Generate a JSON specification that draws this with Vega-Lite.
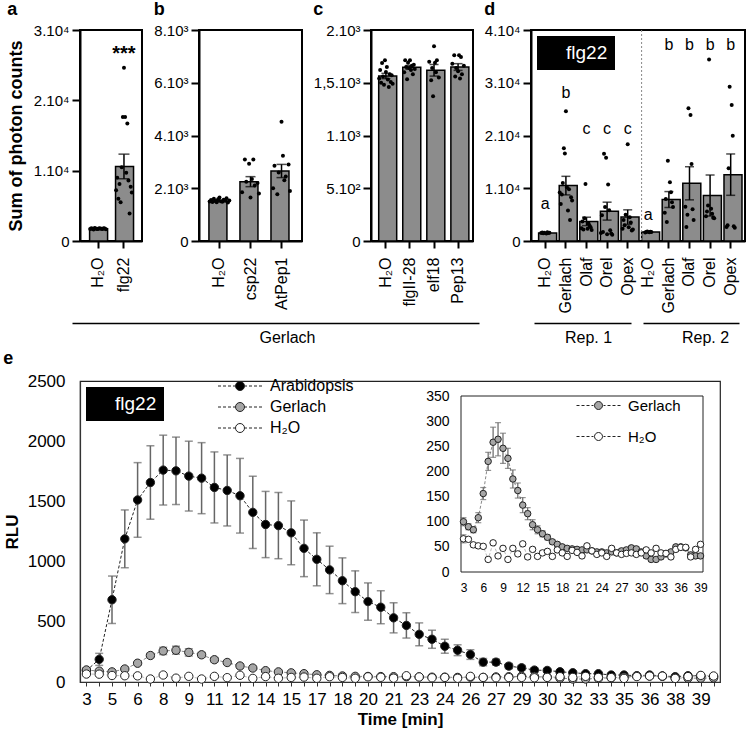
{
"$schema": "https://vega.github.io/schema/vega-lite/v6.json",
"padding": {"left": 2, "top": 0, "right": 0, "bottom": 0},
"config": {
  "font": "Liberation Sans",
  "view": {"stroke": "black", "strokeWidth": 2},
  "axis": {"grid": false, "labelColor": "black", "titleColor": "black", "domainColor": "black", "tickColor": "black", "labelFont": "Liberation Sans", "titleFont": "Liberation Sans"},
  "axisX": {"labelOverlap": false},
  "title": {"font": "Liberation Sans", "fontSize": 18, "fontWeight": "bold", "anchor": "start", "color": "black", "offset": 4},
  "legend": {"labelFont": "Liberation Sans", "labelColor": "black"}
},
"resolve": {"scale": {"shape": "independent", "fill": "independent", "stroke": "independent"}, "legend": {"shape": "independent", "fill": "independent", "stroke": "independent"}},
"datasets": {
"bars": [
{"p":"a","c":"H₂O","m":1750,"se":60},
{"p":"a","c":"flg22","m":10600,"se":1750,"lab":"***","ly":26600},
{"p":"b","c":"H₂O","m":1517,"se":25},
{"p":"b","c":"csp22","m":2250,"se":190},
{"p":"b","c":"AtPep1","m":2654,"se":250},
{"p":"c","c":"H₂O","m":1564,"se":25},
{"p":"c","c":"flgII-28","m":1646,"se":18},
{"p":"c","c":"elf18","m":1618,"se":55},
{"p":"c","c":"Pep13","m":1649,"se":32},
{"p":"d","c":"H₂O|1","m":1509,"se":60,"lab":"a","ly":7070},
{"p":"d","c":"Gerlach|1","m":10500,"se":1760,"lab":"b","ly":28110},
{"p":"d","c":"Olaf|1","m":3710,"se":800,"lab":"c","ly":21290},
{"p":"d","c":"Orel|1","m":5660,"se":1700,"lab":"c","ly":21290},
{"p":"d","c":"Opex|1","m":4530,"se":1380,"lab":"c","ly":21290},
{"p":"d","c":"H₂O|2","m":1700,"se":60,"lab":"a","ly":4870},
{"p":"d","c":"Gerlach|2","m":7860,"se":1510,"lab":"b","ly":37100},
{"p":"d","c":"Olaf|2","m":10940,"se":3140,"lab":"b","ly":37100},
{"p":"d","c":"Orel|2","m":8620,"se":3890,"lab":"b","ly":37100},
{"p":"d","c":"Opex|2","m":12580,"se":3920,"lab":"b","ly":37100}
],
"pts": [
{"p":"a","c":"H₂O","r":1,"v":1700},{"p":"a","c":"H₂O","r":2,"v":1800},{"p":"a","c":"H₂O","r":3,"v":1750},{"p":"a","c":"H₂O","r":4,"v":1650},{"p":"a","c":"H₂O","r":5,"v":1850},{"p":"a","c":"H₂O","r":6,"v":1780},{"p":"a","c":"H₂O","r":7,"v":1720},{"p":"a","c":"H₂O","r":8,"v":1690},{"p":"a","c":"H₂O","r":9,"v":1810},{"p":"a","c":"H₂O","r":10,"v":1760},{"p":"a","c":"H₂O","r":11,"v":1740},{"p":"a","c":"H₂O","r":12,"v":1700},{"p":"a","c":"H₂O","r":13,"v":1820},{"p":"a","c":"H₂O","r":14,"v":1770},{"p":"a","c":"H₂O","r":15,"v":1680},
{"p":"a","c":"flg22","r":1,"v":7200},{"p":"a","c":"flg22","r":2,"v":9000},{"p":"a","c":"flg22","r":3,"v":6000},{"p":"a","c":"flg22","r":4,"v":8100},{"p":"a","c":"flg22","r":5,"v":5500},{"p":"a","c":"flg22","r":6,"v":10500},{"p":"a","c":"flg22","r":7,"v":17640},{"p":"a","c":"flg22","r":8,"v":24650},{"p":"a","c":"flg22","r":9,"v":17640},{"p":"a","c":"flg22","r":10,"v":9700},{"p":"a","c":"flg22","r":11,"v":16690},{"p":"a","c":"flg22","r":12,"v":8600},{"p":"a","c":"flg22","r":13,"v":3900},{"p":"a","c":"flg22","r":14,"v":7700},{"p":"a","c":"flg22","r":15,"v":6900},
{"p":"b","c":"H₂O","r":1,"v":1500},{"p":"b","c":"H₂O","r":2,"v":1550},{"p":"b","c":"H₂O","r":3,"v":1480},{"p":"b","c":"H₂O","r":4,"v":1600},{"p":"b","c":"H₂O","r":5,"v":1520},{"p":"b","c":"H₂O","r":6,"v":1470},{"p":"b","c":"H₂O","r":7,"v":1580},{"p":"b","c":"H₂O","r":8,"v":1650},{"p":"b","c":"H₂O","r":9,"v":1510},{"p":"b","c":"H₂O","r":10,"v":1490},{"p":"b","c":"H₂O","r":11,"v":1560},{"p":"b","c":"H₂O","r":12,"v":1530},{"p":"b","c":"H₂O","r":13,"v":1620},{"p":"b","c":"H₂O","r":14,"v":1460},{"p":"b","c":"H₂O","r":15,"v":1540},
{"p":"b","c":"csp22","r":2,"v":1850},{"p":"b","c":"csp22","r":4,"v":3090},{"p":"b","c":"csp22","r":5,"v":2250},{"p":"b","c":"csp22","r":7,"v":2930},{"p":"b","c":"csp22","r":8,"v":1650},{"p":"b","c":"csp22","r":9,"v":2350},{"p":"b","c":"csp22","r":10,"v":3090},{"p":"b","c":"csp22","r":11,"v":2100},{"p":"b","c":"csp22","r":13,"v":2200},{"p":"b","c":"csp22","r":14,"v":1800},
{"p":"b","c":"AtPep1","r":2,"v":2000},{"p":"b","c":"AtPep1","r":3,"v":2850},{"p":"b","c":"AtPep1","r":5,"v":1770},{"p":"b","c":"AtPep1","r":6,"v":2600},{"p":"b","c":"AtPep1","r":8,"v":4520},{"p":"b","c":"AtPep1","r":9,"v":3230},{"p":"b","c":"AtPep1","r":10,"v":2300},{"p":"b","c":"AtPep1","r":11,"v":2450},{"p":"b","c":"AtPep1","r":13,"v":2900},{"p":"b","c":"AtPep1","r":14,"v":1900},
{"p":"c","c":"H₂O","r":1,"v":1540},{"p":"c","c":"H₂O","r":2,"v":1620},{"p":"c","c":"H₂O","r":3,"v":1500},{"p":"c","c":"H₂O","r":4,"v":1687},{"p":"c","c":"H₂O","r":5,"v":1560},{"p":"c","c":"H₂O","r":6,"v":1480},{"p":"c","c":"H₂O","r":7,"v":1713},{"p":"c","c":"H₂O","r":8,"v":1602},{"p":"c","c":"H₂O","r":9,"v":1649},{"p":"c","c":"H₂O","r":10,"v":1530},{"p":"c","c":"H₂O","r":11,"v":1460},{"p":"c","c":"H₂O","r":12,"v":1580},{"p":"c","c":"H₂O","r":13,"v":1507},{"p":"c","c":"H₂O","r":14,"v":1570},{"p":"c","c":"H₂O","r":15,"v":1490},
{"p":"c","c":"flgII-28","r":2,"v":1600},{"p":"c","c":"flgII-28","r":3,"v":1713},{"p":"c","c":"flgII-28","r":4,"v":1650},{"p":"c","c":"flgII-28","r":5,"v":1532},{"p":"c","c":"flgII-28","r":6,"v":1690},{"p":"c","c":"flgII-28","r":7,"v":1640},{"p":"c","c":"flgII-28","r":8,"v":1713},{"p":"c","c":"flgII-28","r":9,"v":1620},{"p":"c","c":"flgII-28","r":10,"v":1660},{"p":"c","c":"flgII-28","r":11,"v":1580},{"p":"c","c":"flgII-28","r":12,"v":1670},{"p":"c","c":"flgII-28","r":13,"v":1630},
{"p":"c","c":"elf18","r":3,"v":1700},{"p":"c","c":"elf18","r":5,"v":1523},{"p":"c","c":"elf18","r":6,"v":1640},{"p":"c","c":"elf18","r":7,"v":1371},{"p":"c","c":"elf18","r":8,"v":1845},{"p":"c","c":"elf18","r":9,"v":1690},{"p":"c","c":"elf18","r":10,"v":1600},{"p":"c","c":"elf18","r":11,"v":1713},{"p":"c","c":"elf18","r":13,"v":1550},
{"p":"c","c":"Pep13","r":2,"v":1680},{"p":"c","c":"Pep13","r":4,"v":1760},{"p":"c","c":"Pep13","r":5,"v":1560},{"p":"c","c":"Pep13","r":6,"v":1640},{"p":"c","c":"Pep13","r":8,"v":1610},{"p":"c","c":"Pep13","r":9,"v":1760},{"p":"c","c":"Pep13","r":10,"v":1540},{"p":"c","c":"Pep13","r":11,"v":1745},{"p":"c","c":"Pep13","r":12,"v":1580},{"p":"c","c":"Pep13","r":14,"v":1660},
{"p":"d","c":"H₂O|1","r":3,"v":1500},{"p":"d","c":"H₂O|1","r":4,"v":1600},{"p":"d","c":"H₂O|1","r":5,"v":1450},{"p":"d","c":"H₂O|1","r":6,"v":1550},{"p":"d","c":"H₂O|1","r":8,"v":1400},{"p":"d","c":"H₂O|1","r":9,"v":1650},{"p":"d","c":"H₂O|1","r":10,"v":1500},{"p":"d","c":"H₂O|1","r":11,"v":1580},
{"p":"d","c":"Gerlach|1","r":1,"v":9200},{"p":"d","c":"Gerlach|1","r":2,"v":7000},{"p":"d","c":"Gerlach|1","r":3,"v":8800},{"p":"d","c":"Gerlach|1","r":4,"v":11000},{"p":"d","c":"Gerlach|1","r":5,"v":17600},{"p":"d","c":"Gerlach|1","r":6,"v":16600},{"p":"d","c":"Gerlach|1","r":7,"v":24600},{"p":"d","c":"Gerlach|1","r":8,"v":10200},{"p":"d","c":"Gerlach|1","r":9,"v":5800},{"p":"d","c":"Gerlach|1","r":10,"v":9800},{"p":"d","c":"Gerlach|1","r":11,"v":4000},{"p":"d","c":"Gerlach|1","r":12,"v":8300},{"p":"d","c":"Gerlach|1","r":13,"v":7700},
{"p":"d","c":"Olaf|1","r":2,"v":2400},{"p":"d","c":"Olaf|1","r":3,"v":3700},{"p":"d","c":"Olaf|1","r":4,"v":2200},{"p":"d","c":"Olaf|1","r":5,"v":4300},{"p":"d","c":"Olaf|1","r":6,"v":10820},{"p":"d","c":"Olaf|1","r":8,"v":2330},{"p":"d","c":"Olaf|1","r":9,"v":3300},{"p":"d","c":"Olaf|1","r":10,"v":2900},{"p":"d","c":"Olaf|1","r":11,"v":2600},{"p":"d","c":"Olaf|1","r":12,"v":2100},
{"p":"d","c":"Orel|1","r":1,"v":1500},{"p":"d","c":"Orel|1","r":2,"v":4870},{"p":"d","c":"Orel|1","r":3,"v":1700},{"p":"d","c":"Orel|1","r":4,"v":16550},{"p":"d","c":"Orel|1","r":5,"v":6450},{"p":"d","c":"Orel|1","r":6,"v":15790},{"p":"d","c":"Orel|1","r":7,"v":1300},{"p":"d","c":"Orel|1","r":8,"v":10700},{"p":"d","c":"Orel|1","r":9,"v":5820},{"p":"d","c":"Orel|1","r":10,"v":2030},{"p":"d","c":"Orel|1","r":11,"v":1400},{"p":"d","c":"Orel|1","r":12,"v":1200},
{"p":"d","c":"Opex|1","r":2,"v":2300},{"p":"d","c":"Opex|1","r":3,"v":4000},{"p":"d","c":"Opex|1","r":4,"v":3000},{"p":"d","c":"Opex|1","r":5,"v":5000},{"p":"d","c":"Opex|1","r":7,"v":18360},{"p":"d","c":"Opex|1","r":8,"v":2600},{"p":"d","c":"Opex|1","r":9,"v":4500},{"p":"d","c":"Opex|1","r":10,"v":3500},{"p":"d","c":"Opex|1","r":11,"v":2000},{"p":"d","c":"Opex|1","r":12,"v":2200},
{"p":"d","c":"H₂O|2","r":4,"v":1600},{"p":"d","c":"H₂O|2","r":5,"v":1700},{"p":"d","c":"H₂O|2","r":6,"v":1800},{"p":"d","c":"H₂O|2","r":8,"v":1650},{"p":"d","c":"H₂O|2","r":9,"v":1750},{"p":"d","c":"H₂O|2","r":10,"v":1700},
{"p":"d","c":"Gerlach|2","r":3,"v":5350},{"p":"d","c":"Gerlach|2","r":4,"v":7980},{"p":"d","c":"Gerlach|2","r":5,"v":3580},{"p":"d","c":"Gerlach|2","r":6,"v":15220},{"p":"d","c":"Gerlach|2","r":8,"v":11130},{"p":"d","c":"Gerlach|2","r":9,"v":9240},{"p":"d","c":"Gerlach|2","r":10,"v":7360},{"p":"d","c":"Gerlach|2","r":11,"v":6450},
{"p":"d","c":"Olaf|2","r":3,"v":6500},{"p":"d","c":"Olaf|2","r":4,"v":2640},{"p":"d","c":"Olaf|2","r":5,"v":5000},{"p":"d","c":"Olaf|2","r":6,"v":25150},{"p":"d","c":"Olaf|2","r":8,"v":23900},{"p":"d","c":"Olaf|2","r":9,"v":14580},{"p":"d","c":"Olaf|2","r":10,"v":6000},{"p":"d","c":"Olaf|2","r":11,"v":4000},
{"p":"d","c":"Orel|2","r":3,"v":4700},{"p":"d","c":"Orel|2","r":4,"v":5600},{"p":"d","c":"Orel|2","r":5,"v":6740},{"p":"d","c":"Orel|2","r":6,"v":34400},{"p":"d","c":"Orel|2","r":8,"v":6100},{"p":"d","c":"Orel|2","r":9,"v":5180},{"p":"d","c":"Orel|2","r":10,"v":4400},{"p":"d","c":"Orel|2","r":11,"v":4300},
{"p":"d","c":"Opex|2","r":3,"v":2640},{"p":"d","c":"Opex|2","r":4,"v":3000},{"p":"d","c":"Opex|2","r":5,"v":13770},{"p":"d","c":"Opex|2","r":6,"v":29250},{"p":"d","c":"Opex|2","r":8,"v":25790},{"p":"d","c":"Opex|2","r":9,"v":19940},{"p":"d","c":"Opex|2","r":10,"v":2800},{"p":"d","c":"Opex|2","r":11,"v":2500}
],
"kin": [
{"s":"Arabidopsis","t":3,"m":95,"e":20},{"s":"Arabidopsis","t":3.75,"m":188,"e":50},{"s":"Arabidopsis","t":4.5,"m":683,"e":197},{"s":"Arabidopsis","t":5.25,"m":1189,"e":240},{"s":"Arabidopsis","t":6,"m":1512,"e":310},{"s":"Arabidopsis","t":6.75,"m":1657,"e":305},{"s":"Arabidopsis","t":7.5,"m":1760,"e":290},{"s":"Arabidopsis","t":8.25,"m":1754,"e":280},{"s":"Arabidopsis","t":9,"m":1710,"e":290},{"s":"Arabidopsis","t":9.75,"m":1693,"e":295},
{"s":"Arabidopsis","t":10.5,"m":1616,"e":295},{"s":"Arabidopsis","t":11.25,"m":1591,"e":295},{"s":"Arabidopsis","t":12,"m":1547,"e":310},{"s":"Arabidopsis","t":12.75,"m":1409,"e":300},{"s":"Arabidopsis","t":13.5,"m":1308,"e":275},{"s":"Arabidopsis","t":14.25,"m":1299,"e":275},{"s":"Arabidopsis","t":15,"m":1239,"e":265},{"s":"Arabidopsis","t":15.75,"m":1110,"e":235},{"s":"Arabidopsis","t":16.5,"m":1019,"e":220},{"s":"Arabidopsis","t":17.25,"m":931,"e":197},
{"s":"Arabidopsis","t":18,"m":841,"e":190},{"s":"Arabidopsis","t":18.75,"m":750,"e":173},{"s":"Arabidopsis","t":19.5,"m":668,"e":155},{"s":"Arabidopsis","t":20.25,"m":621,"e":137},{"s":"Arabidopsis","t":21,"m":533,"e":125},{"s":"Arabidopsis","t":21.75,"m":470,"e":105},{"s":"Arabidopsis","t":22.5,"m":396,"e":95},{"s":"Arabidopsis","t":23.25,"m":355,"e":75},{"s":"Arabidopsis","t":24,"m":297,"e":58},{"s":"Arabidopsis","t":24.75,"m":264,"e":45},
{"s":"Arabidopsis","t":25.5,"m":228,"e":40},{"s":"Arabidopsis","t":26.25,"m":165,"e":30},{"s":"Arabidopsis","t":27,"m":165,"e":25},{"s":"Arabidopsis","t":27.75,"m":132,"e":22},{"s":"Arabidopsis","t":28.5,"m":118,"e":20},{"s":"Arabidopsis","t":29.25,"m":99,"e":18},{"s":"Arabidopsis","t":30,"m":96,"e":15},{"s":"Arabidopsis","t":30.75,"m":85,"e":12},{"s":"Arabidopsis","t":31.5,"m":77,"e":10},{"s":"Arabidopsis","t":32.25,"m":69,"e":10},
{"s":"Arabidopsis","t":33,"m":69,"e":8},{"s":"Arabidopsis","t":33.75,"m":58,"e":8},{"s":"Arabidopsis","t":34.5,"m":58,"e":8},{"s":"Arabidopsis","t":35.25,"m":52,"e":8},{"s":"Arabidopsis","t":36,"m":58,"e":8},{"s":"Arabidopsis","t":36.75,"m":50,"e":8},{"s":"Arabidopsis","t":37.5,"m":44,"e":8},{"s":"Arabidopsis","t":38.25,"m":52,"e":8},{"s":"Arabidopsis","t":39,"m":52,"e":8},{"s":"Arabidopsis","t":39.75,"m":44,"e":8},
{"s":"Gerlach","t":3,"m":100,"e":8},{"s":"Gerlach","t":3.75,"m":90,"e":6},{"s":"Gerlach","t":4.5,"m":84,"e":6},{"s":"Gerlach","t":5.25,"m":108,"e":10},{"s":"Gerlach","t":6,"m":156,"e":12},{"s":"Gerlach","t":6.75,"m":220,"e":18},{"s":"Gerlach","t":7.5,"m":258,"e":30},{"s":"Gerlach","t":8.25,"m":264,"e":33},{"s":"Gerlach","t":9,"m":246,"e":30},{"s":"Gerlach","t":9.75,"m":226,"e":20},
{"s":"Gerlach","t":10.5,"m":185,"e":18},{"s":"Gerlach","t":11.25,"m":162,"e":15},{"s":"Gerlach","t":12,"m":133,"e":15},{"s":"Gerlach","t":12.75,"m":116,"e":12},{"s":"Gerlach","t":13.5,"m":94,"e":10},{"s":"Gerlach","t":14.25,"m":84,"e":8},{"s":"Gerlach","t":15,"m":76,"e":6},{"s":"Gerlach","t":15.75,"m":69,"e":5},{"s":"Gerlach","t":16.5,"m":60,"e":4},{"s":"Gerlach","t":17.25,"m":55,"e":4},
{"s":"Gerlach","t":18,"m":50,"e":4},{"s":"Gerlach","t":18.75,"m":47,"e":4},{"s":"Gerlach","t":19.5,"m":46,"e":4},{"s":"Gerlach","t":20.25,"m":45,"e":4},{"s":"Gerlach","t":21,"m":44,"e":4},{"s":"Gerlach","t":21.75,"m":44,"e":4},{"s":"Gerlach","t":22.5,"m":42,"e":4},{"s":"Gerlach","t":23.25,"m":40,"e":4},{"s":"Gerlach","t":24,"m":40,"e":4},{"s":"Gerlach","t":24.75,"m":38,"e":4},
{"s":"Gerlach","t":25.5,"m":40,"e":4},{"s":"Gerlach","t":26.25,"m":38,"e":4},{"s":"Gerlach","t":27,"m":42,"e":4},{"s":"Gerlach","t":27.75,"m":44,"e":4},{"s":"Gerlach","t":28.5,"m":48,"e":4},{"s":"Gerlach","t":29.25,"m":46,"e":4},{"s":"Gerlach","t":30,"m":40,"e":4},{"s":"Gerlach","t":30.75,"m":32,"e":4},{"s":"Gerlach","t":31.5,"m":25,"e":4},{"s":"Gerlach","t":32.25,"m":25,"e":4},
{"s":"Gerlach","t":33,"m":30,"e":4},{"s":"Gerlach","t":33.75,"m":36,"e":4},{"s":"Gerlach","t":34.5,"m":40,"e":4},{"s":"Gerlach","t":35.25,"m":50,"e":4},{"s":"Gerlach","t":36,"m":50,"e":4},{"s":"Gerlach","t":36.75,"m":48,"e":4},{"s":"Gerlach","t":37.5,"m":34,"e":4},{"s":"Gerlach","t":38.25,"m":32,"e":4},{"s":"Gerlach","t":39,"m":32,"e":4},{"s":"Gerlach","t":39.75,"m":34,"e":4},
{"s":"H₂O","t":3,"m":66,"e":8},{"s":"H₂O","t":3.75,"m":65,"e":4},{"s":"H₂O","t":4.5,"m":54,"e":4},{"s":"H₂O","t":5.25,"m":52,"e":4},{"s":"H₂O","t":6,"m":51,"e":4},{"s":"H₂O","t":6.75,"m":25,"e":4},{"s":"H₂O","t":7.5,"m":58,"e":4},{"s":"H₂O","t":8.25,"m":32,"e":4},{"s":"H₂O","t":9,"m":47,"e":4},{"s":"H₂O","t":9.75,"m":25,"e":4},
{"s":"H₂O","t":10.5,"m":47,"e":4},{"s":"H₂O","t":11.25,"m":36,"e":4},{"s":"H₂O","t":12,"m":56,"e":4},{"s":"H₂O","t":12.75,"m":30,"e":4},{"s":"H₂O","t":13.5,"m":45,"e":4},{"s":"H₂O","t":14.25,"m":31,"e":4},{"s":"H₂O","t":15,"m":38,"e":4},{"s":"H₂O","t":15.75,"m":41,"e":4},{"s":"H₂O","t":16.5,"m":31,"e":4},{"s":"H₂O","t":17.25,"m":44,"e":4},
{"s":"H₂O","t":18,"m":38,"e":4},{"s":"H₂O","t":18.75,"m":31,"e":4},{"s":"H₂O","t":19.5,"m":43,"e":4},{"s":"H₂O","t":20.25,"m":39,"e":4},{"s":"H₂O","t":21,"m":32,"e":4},{"s":"H₂O","t":21.75,"m":52,"e":4},{"s":"H₂O","t":22.5,"m":42,"e":4},{"s":"H₂O","t":23.25,"m":35,"e":4},{"s":"H₂O","t":24,"m":38,"e":4},{"s":"H₂O","t":24.75,"m":31,"e":4},
{"s":"H₂O","t":25.5,"m":47,"e":4},{"s":"H₂O","t":26.25,"m":38,"e":4},{"s":"H₂O","t":27,"m":35,"e":4},{"s":"H₂O","t":27.75,"m":37,"e":4},{"s":"H₂O","t":28.5,"m":38,"e":4},{"s":"H₂O","t":29.25,"m":35,"e":4},{"s":"H₂O","t":30,"m":38,"e":4},{"s":"H₂O","t":30.75,"m":44,"e":4},{"s":"H₂O","t":31.5,"m":38,"e":4},{"s":"H₂O","t":32.25,"m":47,"e":4},
{"s":"H₂O","t":33,"m":38,"e":4},{"s":"H₂O","t":33.75,"m":37,"e":4},{"s":"H₂O","t":34.5,"m":30,"e":4},{"s":"H₂O","t":35.25,"m":45,"e":4},{"s":"H₂O","t":36,"m":49,"e":4},{"s":"H₂O","t":36.75,"m":49,"e":4},{"s":"H₂O","t":37.5,"m":30,"e":4},{"s":"H₂O","t":38.25,"m":45,"e":4},{"s":"H₂O","t":39,"m":55,"e":4},{"s":"H₂O","t":39.75,"m":50,"e":4}
]
},
"spacing": 4,
"vconcat": [
{
"spacing": 9,
"resolve": {"scale": {"shape": "independent", "xOffset": "independent"}, "legend": {"shape": "independent"}},
"hconcat": [
{
 "title": {"text": "a"},
 "width": 62, "height": 211,
 "layer": [
  {"data": {"name": "bars"}, "transform": [{"filter": "datum.p == 'a'"}],
   "mark": {"type": "bar", "fill": "#8c8c8c", "stroke": "black", "strokeWidth": 1.5},
   "encoding": {
    "x": {"field": "c", "type": "nominal", "scale": {"domain": ["H₂O", "flg22"], "paddingInner": 0.35, "paddingOuter": 0.37}, "axis": {"title": null, "labelAngle": -90, "labelFontSize": 16, "labelPadding": 9, "tickSize": 7, "tickWidth": 2, "domainWidth": 2}},
    "y": {"field": "m", "type": "quantitative", "scale": {"domain": [0, 30000], "nice": false}, "axis": {"title": "Sum of photon counts", "titleFontSize": 18, "titleFontWeight": "bold", "titlePadding": 8, "values": [0, 10000, 20000, 30000], "labelExpr": "datum.value == 0 ? '0' : (datum.value / 10000) + '.10⁴'", "labelFontSize": 15, "labelPadding": 3, "tickSize": 8, "tickWidth": 2, "domainWidth": 2}}
   }},
  {"data": {"name": "bars"}, "transform": [{"filter": "datum.p == 'a'"}],
   "mark": {"type": "errorbar", "ticks": {"size": 11}, "thickness": 1.5, "color": "black"},
   "encoding": {"x": {"field": "c", "type": "nominal", "title": null}, "y": {"field": "m", "type": "quantitative", "title": "Sum of photon counts"}, "yError": {"field": "se"}}},
  {"data": {"name": "pts"}, "transform": [{"filter": "datum.p == 'a'"}],
   "mark": {"type": "circle", "color": "black", "size": 16, "opacity": 1},
   "encoding": {"x": {"field": "c", "type": "nominal", "title": null}, "xOffset": {"field": "r", "type": "ordinal"}, "y": {"field": "v", "type": "quantitative", "title": "Sum of photon counts"}}},
  {"data": {"name": "bars"}, "transform": [{"filter": "datum.p == 'a' && datum.lab != null"}],
   "mark": {"type": "text", "fontSize": 20, "fontWeight": "bold", "baseline": "middle", "color": "black"},
   "encoding": {"x": {"field": "c", "type": "nominal", "title": null}, "y": {"field": "ly", "type": "quantitative", "title": "Sum of photon counts"}, "text": {"field": "lab"}}}
 ]
},
{
 "title": {"text": "b"},
 "width": 103, "height": 211,
 "layer": [
  {"data": {"name": "bars"}, "transform": [{"filter": "datum.p == 'b'"}],
   "mark": {"type": "bar", "fill": "#8c8c8c", "stroke": "black", "strokeWidth": 1.5},
   "encoding": {
    "x": {"field": "c", "type": "nominal", "scale": {"domain": ["H₂O", "csp22", "AtPep1"], "paddingInner": 0.32, "paddingOuter": 0.32}, "axis": {"title": null, "labelAngle": -90, "labelFontSize": 16, "labelPadding": 9, "tickSize": 7, "tickWidth": 2, "domainWidth": 2}},
    "y": {"field": "m", "type": "quantitative", "scale": {"domain": [0, 8000], "nice": false}, "axis": {"title": null, "values": [0, 2000, 4000, 6000, 8000], "labelExpr": "datum.value == 0 ? '0' : (datum.value / 1000) + '.10³'", "labelFontSize": 15, "labelPadding": 3, "tickSize": 8, "tickWidth": 2, "domainWidth": 2}}
   }},
  {"data": {"name": "bars"}, "transform": [{"filter": "datum.p == 'b'"}],
   "mark": {"type": "errorbar", "ticks": {"size": 10}, "thickness": 1.5, "color": "black"},
   "encoding": {"x": {"field": "c", "type": "nominal", "title": null}, "y": {"field": "m", "type": "quantitative", "title": null}, "yError": {"field": "se"}}},
  {"data": {"name": "pts"}, "transform": [{"filter": "datum.p == 'b'"}],
   "mark": {"type": "circle", "color": "black", "size": 16, "opacity": 1},
   "encoding": {"x": {"field": "c", "type": "nominal", "title": null}, "xOffset": {"field": "r", "type": "ordinal"}, "y": {"field": "v", "type": "quantitative", "title": null}}}
 ]
},
{
 "title": {"text": "c"},
 "width": 102, "height": 211,
 "layer": [
  {"data": {"name": "bars"}, "transform": [{"filter": "datum.p == 'c'"}],
   "mark": {"type": "bar", "fill": "#8c8c8c", "stroke": "black", "strokeWidth": 1.5},
   "encoding": {
    "x": {"field": "c", "type": "nominal", "scale": {"domain": ["H₂O", "flgII-28", "elf18", "Pep13"], "paddingInner": 0.4, "paddingOuter": 0.32}, "axis": {"title": null, "labelAngle": -90, "labelFontSize": 16, "labelPadding": 9, "tickSize": 7, "tickWidth": 2, "domainWidth": 2}},
    "y": {"field": "m", "type": "quantitative", "scale": {"domain": [0, 2000], "nice": false}, "axis": {"title": null, "values": [0, 500, 1000, 1500, 2000], "labelExpr": "datum.value == 0 ? '0' : datum.value == 500 ? '5.10²' : datum.value == 1500 ? '1,5.10³' : (datum.value / 1000) + '.10³'", "labelFontSize": 15, "labelPadding": 3, "tickSize": 8, "tickWidth": 2, "domainWidth": 2}}
   }},
  {"data": {"name": "bars"}, "transform": [{"filter": "datum.p == 'c'"}],
   "mark": {"type": "errorbar", "ticks": {"size": 9}, "thickness": 1.5, "color": "black"},
   "encoding": {"x": {"field": "c", "type": "nominal", "title": null}, "y": {"field": "m", "type": "quantitative", "title": null}, "yError": {"field": "se"}}},
  {"data": {"name": "pts"}, "transform": [{"filter": "datum.p == 'c'"}],
   "mark": {"type": "circle", "color": "black", "size": 16, "opacity": 1},
   "encoding": {"x": {"field": "c", "type": "nominal", "title": null}, "xOffset": {"field": "r", "type": "ordinal"}, "y": {"field": "v", "type": "quantitative", "title": null}}}
 ]
},
{
 "title": {"text": "d"},
 "width": 214, "height": 211,
 "layer": [
  {"data": {"name": "bars"}, "transform": [{"filter": "datum.p == 'd'"}],
   "mark": {"type": "bar", "fill": "#8c8c8c", "stroke": "black", "strokeWidth": 1.5},
   "encoding": {
    "x": {"field": "c", "type": "nominal", "scale": {"domain": ["H₂O|1", "Gerlach|1", "Olaf|1", "Orel|1", "Opex|1", "H₂O|2", "Gerlach|2", "Olaf|2", "Orel|2", "Opex|2"], "paddingInner": 0.35, "paddingOuter": 0.37}, "axis": {"title": null, "labelAngle": -90, "labelFontSize": 16, "labelPadding": 9, "tickSize": 7, "tickWidth": 2, "domainWidth": 2, "labelExpr": "replace(replace(datum.label, '|1', ''), '|2', '')"}},
    "y": {"field": "m", "type": "quantitative", "scale": {"domain": [0, 40000], "nice": false}, "axis": {"title": null, "values": [0, 10000, 20000, 30000, 40000], "labelExpr": "datum.value == 0 ? '0' : (datum.value / 10000) + '.10⁴'", "labelFontSize": 15, "labelPadding": 3, "tickSize": 8, "tickWidth": 2, "domainWidth": 2}}
   }},
  {"data": {"values": [{}]},
   "mark": {"type": "rule", "strokeDash": [2, 2], "color": "#888", "strokeWidth": 1},
   "encoding": {"x": {"datum": "H₂O|2", "type": "nominal", "bandPosition": 0, "title": null}}},
  {"data": {"name": "bars"}, "transform": [{"filter": "datum.p == 'd'"}],
   "mark": {"type": "errorbar", "ticks": {"size": 9}, "thickness": 1.5, "color": "black"},
   "encoding": {"x": {"field": "c", "type": "nominal", "title": null}, "y": {"field": "m", "type": "quantitative", "title": null}, "yError": {"field": "se"}}},
  {"data": {"name": "pts"}, "transform": [{"filter": "datum.p == 'd'"}],
   "mark": {"type": "circle", "color": "black", "size": 16, "opacity": 1},
   "encoding": {"x": {"field": "c", "type": "nominal", "title": null}, "xOffset": {"field": "r", "type": "ordinal"}, "y": {"field": "v", "type": "quantitative", "title": null}}},
  {"data": {"name": "bars"}, "transform": [{"filter": "datum.p == 'd' && datum.lab != null"}],
   "mark": {"type": "text", "fontSize": 16, "baseline": "middle", "color": "black"},
   "encoding": {"x": {"field": "c", "type": "nominal", "title": null}, "y": {"field": "ly", "type": "quantitative", "title": null}, "text": {"field": "lab"}}},
  {"data": {"values": [{"k": "flg22"}]},
   "mark": {"type": "point", "opacity": 0},
   "encoding": {"shape": {"field": "k", "type": "nominal", "scale": {"range": ["square"]}, "legend": {"orient": "top-left", "offset": 6, "title": null, "fillColor": "black", "padding": 7, "labelColor": "white", "labelFontSize": 19, "symbolOpacity": 0, "symbolSize": 100, "labelOffset": 3, "labelExpr": "datum.label + '\u00a0\u00a0'"}}}}
 ]
}
]
},
{
 "width": 660, "height": 4,
 "view": {"stroke": null},
 "resolve": {"scale": {"x": "independent"}},
 "layer": [
  {"data": {"values": []}, "mark": {"type": "point", "opacity": 0},
   "encoding": {"x": {"field": "v", "type": "quantitative", "scale": {"domain": [0, 1], "range": [-8, 399]}, "axis": {"orient": "bottom", "title": "Gerlach", "titleX": 207, "titleFontSize": 16, "titleFontWeight": "normal", "titlePadding": 6, "labels": false, "ticks": false, "domainWidth": 1.5}},
    "y": {"field": "w", "type": "quantitative", "scale": {"domain": [0, 1]}, "axis": null}}},
  {"data": {"values": []}, "mark": {"type": "point", "opacity": 0},
   "encoding": {"x": {"field": "v", "type": "quantitative", "scale": {"domain": [0, 1], "range": [454, 551]}, "axis": {"orient": "bottom", "title": "Rep. 1", "titleX": 508, "titleFontSize": 16, "titleFontWeight": "normal", "titlePadding": 6, "labels": false, "ticks": false, "domainWidth": 1.5}},
    "y": {"field": "w", "type": "quantitative", "scale": {"domain": [0, 1]}, "axis": null}}},
  {"data": {"values": []}, "mark": {"type": "point", "opacity": 0},
   "encoding": {"x": {"field": "v", "type": "quantitative", "scale": {"domain": [0, 1], "range": [563, 659]}, "axis": {"orient": "bottom", "title": "Rep. 2", "titleX": 625, "titleFontSize": 16, "titleFontWeight": "normal", "titlePadding": 6, "labels": false, "ticks": false, "domainWidth": 1.5}},
    "y": {"field": "w", "type": "quantitative", "scale": {"domain": [0, 1]}, "axis": null}}}
 ]
},
{
 "title": {"text": "e"},
 "width": 640, "height": 301,
 "view": {"stroke": "#222", "strokeWidth": 1.2},
 "resolve": {"scale": {"x": "independent", "y": "independent", "fill": "independent"}},
 "layer": [
  {
   "data": {"name": "kin"},
   "encoding": {
    "x": {"field": "t", "type": "quantitative", "scale": {"domain": [2.625, 40.125], "nice": false, "zero": false},
      "axis": {"title": "Time [min]", "titleFontSize": 17, "titleFontWeight": "bold", "titlePadding": 4, "values": [3,3.75,4.5,5.25,6,6.75,7.5,8.25,9,9.75,10.5,11.25,12,12.75,13.5,14.25,15,15.75,16.5,17.25,18,18.75,19.5,20.25,21,21.75,22.5,23.25,24,24.75,25.5,26.25,27,27.75,28.5,29.25,30,30.75,31.5,32.25,33,33.75,34.5,35.25,36,36.75,37.5,38.25,39,39.75], "labelExpr": "round((datum.value - 3) / 0.75) % 2 == 0 ? format(round(datum.value), 'd') : ''", "labelFontSize": 17, "labelFlush": false, "labelOverlap": false, "tickSize": 4, "tickWidth": 1, "tickColor": "#333", "domainColor": "#333", "domainWidth": 1.2, "labelPadding": 5}},
    "y": {"field": "m", "type": "quantitative", "scale": {"domain": [0, 2500], "nice": false},
      "axis": {"title": "RLU", "titleFontSize": 17, "titleFontWeight": "bold", "titlePadding": 6, "values": [0, 500, 1000, 1500, 2000, 2500], "format": "d", "labelFontSize": 17, "ticks": false, "labelPadding": 15, "domainColor": "#333", "domainWidth": 1.2}}
   },
   "layer": [
    {"mark": {"type": "line", "strokeDash": [3, 2], "strokeWidth": 1},
     "encoding": {"stroke": {"field": "s", "type": "nominal", "scale": {"domain": ["Arabidopsis", "Gerlach", "H₂O"], "range": ["#222", "#888", "#bbb"]}, "legend": null}}},
    {"mark": {"type": "errorbar", "ticks": {"size": 8}, "thickness": 1.5, "color": "#666"},
     "encoding": {"yError": {"field": "e"}}},
    {"mark": {"type": "circle", "size": 70, "stroke": "#222", "strokeWidth": 1, "opacity": 1},
     "encoding": {
      "fill": {"field": "s", "type": "nominal", "scale": {"domain": ["Arabidopsis", "Gerlach", "H₂O"], "range": ["black", "#a6a6a6", "white"]},
        "legend": {"orient": "none", "legendX": 152, "legendY": -3, "title": null, "padding": 0, "symbolType": "M-4.4,0H-3.8M-3.4,0H-2.8M-2.4,0H-1.8M-1.4,0H-1M1,0H1.4M1.8,0H2.4M2.8,0H3.4M3.8,0H4.4M-0.9,0A0.9,0.9 0 1,0 0.9,0A0.9,0.9 0 1,0 -0.9,0Z", "symbolSize": 100, "symbolStrokeColor": "#222", "symbolStrokeWidth": 1, "labelFontSize": 16, "labelOffset": 22, "rowPadding": 5}}}}
   ]
  },
  {
   "layer": [
    {"data": {"values": [{}]},
     "mark": {"type": "rect", "fill": "white", "stroke": "#222", "strokeWidth": 1},
     "encoding": {
      "x": {"datum": 2.625, "type": "quantitative", "scale": {"domain": [2.625, 39.375], "range": [381, 623], "nice": false, "zero": false},
        "axis": {"orient": "bottom", "offset": -110, "title": null, "values": [3,6,9,12,15,18,21,24,27,30,33,36,39], "format": "d", "labelFontSize": 12, "ticks": false, "domain": false, "labelPadding": 10, "labelFlush": false, "labelOverlap": false}},
      "x2": {"datum": 39.375},
      "y": {"datum": 0, "type": "quantitative", "scale": {"domain": [0, 350], "range": [191, 15], "nice": false},
        "axis": {"orient": "left", "offset": -381, "title": null, "values": [0,50,100,150,200,250,300,350], "labelFontSize": 14, "ticks": false, "domain": false, "labelPadding": 12}},
      "y2": {"datum": 350}
     }},
    {"data": {"name": "kin"}, "transform": [{"filter": "datum.s != 'Arabidopsis' && datum.t <= 39"}],
     "mark": {"type": "line", "strokeDash": [3, 2], "strokeWidth": 1},
     "encoding": {"x": {"field": "t", "type": "quantitative", "title": null}, "y": {"field": "m", "type": "quantitative", "title": null},
      "stroke": {"field": "s", "type": "nominal", "scale": {"domain": ["Arabidopsis", "Gerlach", "H₂O"], "range": ["#222", "#888", "#bbb"]}, "legend": null}}},
    {"data": {"name": "kin"}, "transform": [{"filter": "datum.s != 'Arabidopsis' && datum.t <= 39"}],
     "mark": {"type": "errorbar", "ticks": {"size": 6}, "thickness": 1.2, "color": "#666"},
     "encoding": {"x": {"field": "t", "type": "quantitative", "title": null}, "y": {"field": "m", "type": "quantitative", "title": null}, "yError": {"field": "e"}}},
    {"data": {"name": "kin"}, "transform": [{"filter": "datum.s != 'Arabidopsis' && datum.t <= 39"}],
     "mark": {"type": "circle", "size": 42, "stroke": "#222", "strokeWidth": 1, "opacity": 1},
     "encoding": {"x": {"field": "t", "type": "quantitative", "title": null}, "y": {"field": "m", "type": "quantitative", "title": null},
      "fill": {"field": "s", "type": "nominal", "scale": {"domain": ["Gerlach", "H₂O"], "range": ["#a6a6a6", "white"]},
        "legend": {"orient": "none", "legendX": 511, "legendY": 17, "title": null, "padding": 0, "symbolType": "M-4.4,0H-3.8M-3.4,0H-2.8M-2.4,0H-1.8M-1.4,0H-1M1,0H1.4M1.8,0H2.4M2.8,0H3.4M3.8,0H4.4M-0.8,0A0.8,0.8 0 1,0 0.8,0A0.8,0.8 0 1,0 -0.8,0Z", "symbolSize": 100, "symbolStrokeColor": "#222", "symbolStrokeWidth": 1, "labelFontSize": 15, "labelOffset": 22, "rowPadding": 15}}}}
   ]
  },
  {"data": {"values": [{"k": "flg22"}]},
   "mark": {"type": "point", "opacity": 0},
   "encoding": {"shape": {"field": "k", "type": "nominal", "scale": {"range": ["square"]}, "legend": {"orient": "top-left", "offset": 6, "title": null, "fillColor": "black", "padding": 7, "labelColor": "white", "labelFontSize": 19, "symbolOpacity": 0, "symbolSize": 100, "labelOffset": 3, "labelExpr": "datum.label + '\u00a0\u00a0'"}}}}
 ]
}
]
}
